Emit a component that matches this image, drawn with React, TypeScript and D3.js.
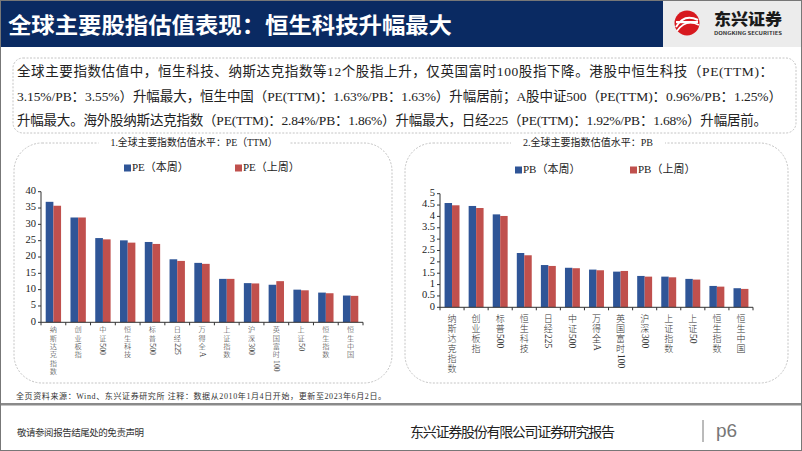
import * as d3 from 'd3';

const peCats = ['纳斯达克指数', '创业板指', '中证500', '恒生科技', '标普500', '日经225', '万得全A', '上证指数', '沪深300', '英国富时100', '上证50', '恒生指数', '恒生中国'];
const peThis = [36.9, 32.1, 25.8, 25.1, 24.6, 19.3, 18.2, 13.3, 12.0, 11.5, 10.0, 9.1, 8.2];
const peLast = [35.7, 32.1, 25.4, 24.4, 24.0, 18.8, 17.9, 13.3, 11.9, 12.6, 9.8, 8.9, 8.1];
const peTicks = [0, 5, 10, 15, 20, 25, 30, 35, 40];

const pbCats = ['纳斯达克指数', '创业板指', '标普500', '恒生科技', '日经225', '中证500', '万得全A', '英国富时100', '沪深300', '上证指数', '上证50', '恒生指数', '恒生中国'];
const pbThis = [4.59, 4.46, 4.09, 2.39, 1.86, 1.74, 1.66, 1.57, 1.38, 1.35, 1.25, 0.94, 0.84];
const pbLast = [4.49, 4.37, 4.02, 2.29, 1.82, 1.72, 1.63, 1.60, 1.35, 1.32, 1.22, 0.91, 0.81];
const pbTicks = [0, 0.5, 1, 1.5, 2, 2.5, 3, 3.5, 4, 4.5, 5];

const summary = [
  '全球主要指数估值中，恒生科技、纳斯达克指数等12个股指上升，仅英国富时100股指下降。港股中恒生科技（PE(TTM)：',
  '3.15%/PB：3.55%）升幅最大，恒生中国（PE(TTM)：1.63%/PB：1.63%）升幅居前；A股中证500（PE(TTM)：0.96%/PB：1.25%）',
  '升幅最大。海外股纳斯达克指数（PE(TTM)：2.84%/PB：1.86%）升幅最大，日经225（PE(TTM)：1.92%/PB：1.68%）升幅居前。',
];

const BLUE = '#2f5597';
const RED = '#c0504d';
const NAVY = '#0a2a62';
const SERIF = '"Liberation Serif", "Noto Sans CJK SC", serif';
const SANS = '"Noto Sans CJK SC", sans-serif';

// vertical category label: CJK upright, latin runs turned 90deg
function VLabel({ cx, y0, text, size, pitch }: { cx: number; y0: number; text: string; size: number; pitch: number }) {
  const tokens = text.match(/[A-Za-z0-9]+|[^A-Za-z0-9]/g) || [];
  let yy = y0;
  const out: any[] = [];
  tokens.forEach((tok, i) => {
    if (/^[A-Za-z0-9]+$/.test(tok)) {
      const w = tok.split('').reduce((s, ch) => s + (/\d/.test(ch) ? 0.5 : 0.72), 0) * (size + 0.5);
      out.push(
        <text key={i} transform={`translate(${cx},${yy + 0.5}) rotate(90)`} dominantBaseline="central"
          fontFamily={SERIF} fontSize={size + 0.5} fill="#333">{tok}</text>
      );
      yy += w + 1.5;
    } else {
      out.push(
        <text key={i} x={cx} y={yy + pitch / 2} textAnchor="middle" dominantBaseline="central"
          fontFamily={SERIF} fontWeight={300} fontSize={size} fill="#333">{tok}</text>
      );
      yy += pitch;
    }
  });
  return <g>{out}</g>;
}

type ChartProps = {
  box: [number, number, number, number];
  title: string;
  titleX: number;
  titleW: number;
  legend: [string, string];
  legendX: [number, number];
  legendY: number;
  cats: string[];
  cur: number[];
  prev: number[];
  ticks: number[];
  x0: number; x1: number; yTop: number; yBot: number;
  labelY: number;
  labelSize: number;
  labelPitch: number;
};

function BarChart(p: ChartProps) {
  const [bx, by, bw, bh] = p.box;
  const x = d3.scaleBand<string>().domain(p.cats).range([p.x0, p.x1]).paddingInner(0.38).paddingOuter(0.19);
  const y = d3.scaleLinear().domain([0, p.ticks[p.ticks.length - 1]]).range([p.yBot, p.yTop]);
  const bw2 = x.bandwidth() / 2;
  const step = x.step();
  return (
    <g>
      <rect x={bx} y={by} width={bw} height={bh} rx={28} ry={28} fill="none" stroke="#c4c4c4" strokeDasharray="2,1.5" />
      <rect x={p.titleX - p.titleW / 2 - 12} y={by - 6} width={p.titleW + 24} height={12} fill="#fff" />
      <text x={p.titleX - p.titleW / 2} y={by + 1} dominantBaseline="middle" fontFamily={SERIF} fontSize={10.5} fill="#222"
        textLength={p.titleW} lengthAdjust="spacingAndGlyphs">{p.title}</text>
      {p.legend.map((t, i) => (
        <g key={t}>
          <rect x={p.legendX[i]} y={p.legendY - 3.5} width={7} height={7} fill={i === 0 ? BLUE : RED} />
          <text x={p.legendX[i] + 8} y={p.legendY} dominantBaseline="middle" fontFamily={SERIF} fontSize={11} fill="#222">{t}</text>
        </g>
      ))}
      {p.cats.map((c, i) => (
        <g key={c}>
          <rect x={x(c)!} y={y(p.cur[i])} width={bw2} height={p.yBot - y(p.cur[i])} fill={BLUE} />
          <rect x={x(c)! + bw2} y={y(p.prev[i])} width={bw2} height={p.yBot - y(p.prev[i])} fill={RED} />
          <VLabel cx={x(c)! + bw2} y0={p.labelY} text={c} size={p.labelSize} pitch={p.labelPitch} />
        </g>
      ))}
      <line x1={p.x0} x2={p.x0} y1={p.yTop} y2={p.yBot} stroke="#333" />
      <line x1={p.x0} x2={p.x1} y1={p.yBot} y2={p.yBot} stroke="#333" />
      {p.ticks.map(t => (
        <g key={t}>
          <line x1={p.x0 - 3} x2={p.x0} y1={y(t)} y2={y(t)} stroke="#333" />
          <text x={p.x0 - 5} y={y(t)} textAnchor="end" dominantBaseline="middle" fontFamily={SERIF} fontSize={10.5} fill="#222">{t}</text>
        </g>
      ))}
      {d3.range(p.cats.length + 1).map(i => (
        <line key={i} x1={p.x0 + i * step} x2={p.x0 + i * step} y1={p.yBot} y2={p.yBot + 3} stroke="#333" />
      ))}
    </g>
  );
}

export default function App() {
  return (
    <svg width={802} height={451} style={{ position: 'absolute', left: 0, top: 0, background: '#fff' }}>
      <rect x={0} y={0} width={802} height={451} fill="#fff" />
      {/* header */}
      <rect x={0} y={0} width={663} height={47} fill={NAVY} />
      <rect x={663} y={0} width={139} height={47} fill="#ececec" />
      <text x={8} y={33} fontFamily={SANS} fontWeight={700} fontSize={22} fill="#fff" textLength={444} lengthAdjust="spacingAndGlyphs">全球主要股指估值表现：恒生科技升幅最大</text>
      <g>
        <circle cx={687} cy={23} r={12.5} fill="#d7191f" />
        <path d="M676,27 Q684,13 698,20" fill="none" stroke="#fff" strokeWidth={2} />
        <path d="M677,31 Q686,18 699,25" fill="none" stroke="#fff" strokeWidth={1.6} />
        <rect x={676} y={21} width={22} height={2.2} fill="#fff" />
        <text x={714} y={25} fontFamily={SANS} fontWeight={900} fontSize={16} fill="#1a1a1a" textLength={68} lengthAdjust="spacingAndGlyphs">东兴证券</text>
        <text x={714} y={35} fontFamily={SANS} fontWeight={700} fontSize={4.5} fill="#333" textLength={68} lengthAdjust="spacingAndGlyphs">DONGKING SECURITIES</text>
      </g>
      {/* summary box */}
      <rect x={13} y={58} width={783} height={75} rx={10} ry={10} fill="none" stroke="#c4c4c4" strokeDasharray="2,1.5" />
      {summary.map((s, i) => (
        <text key={i} x={17} y={76 + i * 24.6} fontFamily={SERIF} fontSize={13.5} fill="#222"
          textLength={[756, 765, 750][i]} lengthAdjust="spacing">{s}</text>
      ))}
      <BarChart box={[14, 143, 378, 240]} title="1.全球主要指数估值水平：PE（TTM）" titleX={194} titleW={167}
        legend={['PE（本周）', 'PE（上周）']} legendX={[124, 235]} legendY={168}
        cats={peCats} cur={peThis} prev={peLast} ticks={peTicks}
        x0={41} x1={363} yTop={191.7} yBot={322.3} labelY={326} labelSize={7.2} labelPitch={8.4} />
      <BarChart box={[405, 143, 383, 240]} title="2.全球主要指数估值水平：PB" titleX={588} titleW={130}
        legend={['PB（本周）', 'PB（上周）']} legendX={[515, 630]} legendY={170}
        cats={pbCats} cur={pbThis} prev={pbLast} ticks={pbTicks}
        x0={440} x1={753} yTop={193.7} yBot={307.3} labelY={313.5} labelSize={9} labelPitch={10} />
      {/* footer */}
      <text x={16} y={399} fontFamily={SERIF} fontSize={8} fill="#333" textLength={370} lengthAdjust="spacing">全页资料来源：Wind、东兴证券研究所 注释：数据从2010年1月4日开始，更新至2023年6月2日。</text>
      <rect x={0} y={403} width={802} height={2.5} fill="#8a8a8a" />
      <text x={17} y={436} fontFamily={SERIF} fontSize={9.5} fill="#333" textLength={127} lengthAdjust="spacing">敬请参阅报告结尾处的免责声明</text>
      <text x={410} y={437} fontFamily={SERIF} fontSize={14} fill="#222" textLength={205} lengthAdjust="spacing">东兴证券股份有限公司证券研究报告</text>
      <line x1={703} x2={703} y1={420} y2={442} stroke="#777" strokeWidth={1} />
      <text x={716} y={437} fontFamily='"Liberation Sans", sans-serif' fontSize={19} fill="#777">p6</text>
      <rect x={0.5} y={0.5} width={801} height={450} fill="none" stroke="#777" />
    </svg>
  );
}
